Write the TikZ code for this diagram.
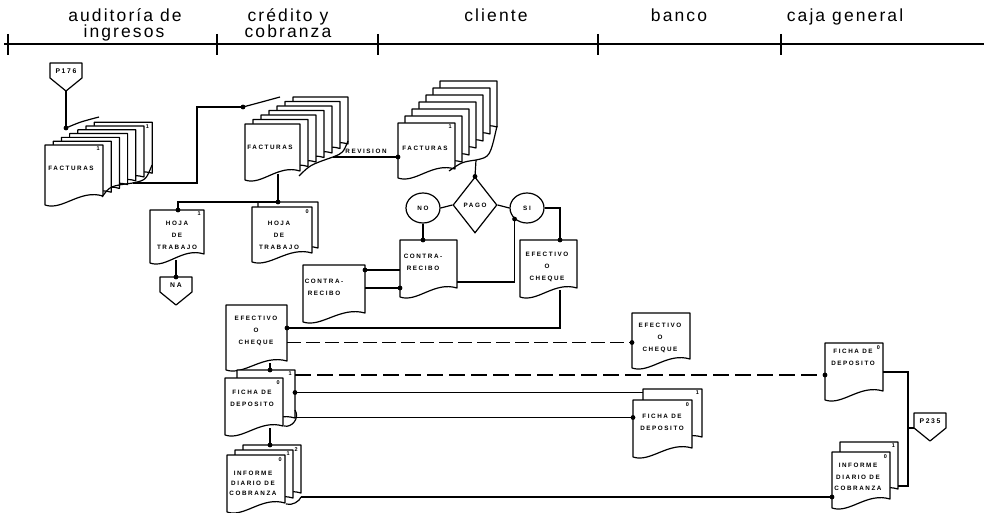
\documentclass[tikz,border=0pt]{standalone}
\usepackage{fontspec}
\setmainfont{Liberation Sans}
\newfontfamily\headfont[LetterSpace=12]{Liberation Sans}
\newfontfamily\docfont[LetterSpace=25]{Liberation Sans}
\usetikzlibrary{calc,shapes.geometric}

\newcommand\docpath[5]{%
  \node[docnode, minimum width=#3pt, minimum height=#4pt, anchor=north west] (#5) at (#1,#2) {};
  \draw[docline] (#5.north west) -- (#5.north east) -- ($(#5.south east)+(0,-9)$) .. controls ($(#5.south)+(0.1*#3,-16)$) and ($(#5.south)+(-0.2*#3,6)$) .. (#5.south west) -- cycle;
}
\newcommand\docstack[8]{%
  \foreach \i in {#6,...,1}{\docpath{#2+\i*#7}{#3-\i*#8}{#4}{#5}{#1b\i}}%
  \docpath{#2}{#3}{#4}{#5}{#1}%
}
\newcommand\offpage[4]{%
  \draw[docline] (#2-16,#3) -- (#2+16,#3) -- (#2+16,#3+15) -- (#2,#3+28) -- (#2-16,#3+15) -- cycle;
  \node[offtext] (#1) at (#2,#3+8) {#4};
  \coordinate (#1tip) at (#2,#3+28);
  \coordinate (#1w) at (#2-16,#3+15);
  \coordinate (#1n) at (#2,#3);
}
\newcommand\docnum[2]{\node[numlabel, anchor=north east] (#1num) at ($(#1.north east)+(-3,2)$) {#2};}
\newcommand\dotat[1]{\fill #1 circle (2.4);}

\begin{document}
\begin{tikzpicture}[x=1pt,y=-1pt,
  conn/.style={line width=1.2pt},
  docline/.style={line width=1.2pt, fill=white, line join=round},
  docnode/.style={inner sep=0pt, outer sep=0pt, draw=none},
  doclabel/.style={font={\docfont\bfseries\fontsize{6.3}{12}\selectfont}, align=center, inner sep=0pt},
  offtext/.style={font={\docfont\bfseries\fontsize{6.8}{7}\selectfont}, inner sep=0pt},
  numlabel/.style={font={\bfseries\fontsize{5.5}{6}\selectfont}, inner sep=0pt},
  head/.style={font={\headfont\fontsize{17.5}{19}\selectfont}, anchor=base, inner sep=0pt},
  round/.style={ellipse, draw, line width=1.2pt, fill=white, minimum width=34pt, minimum height=30pt, inner sep=0pt, font={\docfont\bfseries\fontsize{6.3}{7}\selectfont}}
]
\useasboundingbox (0,0) rectangle (984,513);

% ---------- header ----------
\draw[conn] (4,44) -- (984,44);
\foreach \x in {8,217,378,598,781} \draw[conn] (\x,34) -- (\x,55);
\node[head] (h1a) at (125,22) {auditoría de};
\node[head] (h1b) at (124,38) {ingresos};
\node[head] (h2a) at (288,22) {crédito y};
\node[head] (h2b) at (288,38) {cobranza};
\node[head] (h3) at (496,22) {cliente};
\node[head] (h4) at (679,22) {banco};
\node[head] (h5) at (845,22) {caja general};

% ---------- auditoria de ingresos ----------
\offpage{pA}{66}{63}{P176}
\docstack{afac}{45}{145}{58}{60}{6}{8.2}{3.8}
\node[doclabel] (afacl) at (71,168) {FACTURAS};
\docnum{afac}{1}
\docnum{afacb6}{1}
\coordinate (afacin) at (66,128);
\coordinate (afacout) at (133,183);
\draw[conn] (afacin) .. controls (80,122) .. (99,117);
\draw[conn] (102,197) .. controls (110,186) .. (afacout) .. controls (146,180) .. (152,165);
\draw[conn] (pAtip) -- (afacin);
\dotat{(afacin)}

\docpath{150}{210}{54}{53}{ahoja}
\node[doclabel] (ahojal) at (177,235) {HOJA\\DE\\TRABAJO};
\docnum{ahoja}{1}
\offpage{pNA}{176}{277}{NA}
\draw[conn] ($(ahoja.north west)+(26,50)$) -- (pNAn);
\dotat{(pNAn)}

% ---------- credito y cobranza: facturas ----------
\docstack{cfac}{245}{124}{55}{56}{6}{8}{4.5}
\node[doclabel] (cfacl) at (270,147) {FACTURAS};
\coordinate (cfacin) at (243,107);
\coordinate (cfacout) at (333,157);
\draw[conn] (cfacin) .. controls (258,103) .. (280,97);
\draw[conn] (299,176) .. controls (310,165) .. (cfacout) .. controls (343,153) .. (348,141);
\draw[conn] (afacout) -| (197,107) -- (cfacin);
\dotat{(cfacin)}

\docstack{choja}{252}{207}{60}{55}{1}{6}{5}
\node[doclabel] (chojal) at (279,235) {HOJA\\DE\\TRABAJO};
\docnum{choja}{0}
\coordinate (chojain) at ($(chojab1.north west)+(20,0)$);
\draw[conn] ($(cfac.north west)+(33,50)$) -- (chojain);
\draw[conn] (chojain) -| ($(ahoja.north west)+(28,0)$);
\dotat{(chojain)}
\dotat{($(ahoja.north west)+(28,0)$)}

% ---------- cliente ----------
\docstack{clfac}{398}{123}{57}{55}{6}{7}{7}
\node[doclabel] (clfacl) at (425,148) {FACTURAS};
\docnum{clfac}{1}
\coordinate (clfacout) at (476,160);
\draw[conn] (449,171) .. controls (462,162) .. (clfacout) .. controls (490,157) .. (497,126);
\draw[conn] (cfacout) -- ($(clfac.north west)+(0,34)$);
\dotat{($(clfac.north west)+(0,34)$)}
\node[doclabel] (rev) at (366,151) {REVISION};

\node[diamond, draw, line width=1.2pt, fill=white, minimum width=44pt, minimum height=56pt, inner sep=0pt, aspect=0.8, font={\docfont\bfseries\fontsize{6.3}{7}\selectfont}] (pago) at (475,205) {PAGO};
\node[round] (no) at (423,208) {NO};
\node[round] (si) at (527,208) {SI};
\draw[conn] (clfacout) -- (pago.north);
\dotat{(pago.north)}
\draw[conn] (no.east) -- (pago.west);
\draw[conn] (pago.east) -- (si.west);

\docpath{400}{240}{57}{57}{clcr}
\node[doclabel] (clcrl) at (423,262) {CONTRA-\\RECIBO};
\draw[conn] (no.south) -- (no.south |- clcr.north);
\dotat{(no.south |- clcr.north)}
\draw[conn] (si.south west) |- ($(clcr.north east)+(0,42)$);
\dotat{(si.south west)}

\docpath{520}{240}{57}{57}{clef}
\node[doclabel] (clefl) at (547,267) {EFECTIVO\\O\\CHEQUE};
\coordinate (clefin) at ($(clef.north west)+(40,0)$);
\draw[conn] (si.east) -| (clefin);
\dotat{(clefin)}

% contra-recibo in credito
\docpath{303}{265}{62}{57}{ccr}
\node[doclabel] (ccrl) at (324,287) {CONTRA-\\RECIBO};
\draw[conn] ($(clcr.north west)+(0,30)$) -- ($(ccr.north east)+(0,5)$);
\dotat{($(ccr.north east)+(0,5)$)}
\draw[conn] ($(ccr.north east)+(0,23)$) -- ($(clcr.north west)+(0,48)$);
\dotat{($(clcr.north west)+(0,48)$)}

% ---------- efectivo o cheque ----------
\docpath{226}{305}{61}{65}{credef}
\node[doclabel] (credefl) at (256,331) {EFECTIVO\\O\\CHEQUE};
\draw[conn] ($(clef.north west)+(40,50)$) |- ($(credef.north east)+(0,23)$);
\dotat{($(credef.north east)+(0,23)$)}

\docpath{632}{313}{58}{55}{bef}
\node[doclabel] (befl) at (660,338) {EFECTIVO\\O\\CHEQUE};
\draw[conn, dash pattern=on 14pt off 5pt] ($(credef.north east)+(0,37.5)$) -- ($(bef.north west)+(0,29.5)$);
\dotat{($(bef.north west)+(0,29.5)$)}

% ---------- ficha de deposito ----------
\docstack{cfi}{225}{378}{58}{57}{1}{12}{8}
\node[doclabel] (cfil) at (252,398) {FICHA DE\\DEPOSITO};
\docnum{cfi}{0}
\docnum{cfib1}{1}
\draw[conn] ($(credef.north west)+(44,58)$) -- ($(cfib1.north west)+(33,0)$);
\dotat{($(cfib1.north west)+(33,0)$)}
\draw[conn] (284,426) .. controls (292,428) and (300,418) .. (295,410);

\docstack{bfi}{633}{400}{59}{57}{1}{10}{11}
\node[doclabel] (bfil) at (662,422) {FICHA DE\\DEPOSITO};
\docnum{bfi}{0}
\docnum{bfib1}{1}

\docpath{825}{343}{58}{57}{cjfi}
\node[doclabel] (cjfil) at (853,357) {FICHA DE\\DEPOSITO};
\docnum{cjfi}{0}

\draw[conn, dash pattern=on 16pt off 6pt] ($(cfib1.north east)+(0,5)$) -- ($(cjfi.north west)+(0,32)$);
\dotat{($(cjfi.north west)+(0,32)$)}
\draw[conn] ($(bfib1.north west)+(0,3.5)$) -- ($(cfib1.north east)+(0,22.5)$);
\dotat{($(cfib1.north east)+(0,22.5)$)}
\draw[conn] ($(cfib1.north east)+(0,47.5)$) -- ($(bfi.north west)+(0,17.5)$);
\dotat{($(bfi.north west)+(0,17.5)$)}

% ---------- informe diario de cobranza ----------
\docstack{cinf}{227}{455}{58}{57}{2}{8}{5}
\node[doclabel, font={\docfont\bfseries\fontsize{6.3}{10}\selectfont}] (cinfl) at (253,483) {INFORME\\DIARIO DE\\COBRANZA};
\docnum{cinf}{0}
\docnum{cinfb1}{1}
\docnum{cinfb2}{2}
\draw[conn] ($(cfi.north west)+(45,50)$) -- ($(cinfb2.north west)+(27,0)$);
\dotat{($(cinfb2.north west)+(27,0)$)}
\coordinate (cinfout) at ($(cinfb2.north east)+(0,52)$);
\draw[conn] (286,504) .. controls (292,506) and (300,501) .. (cinfout);

\docstack{cjinf}{832}{452}{58}{56}{1}{8}{10}
\node[doclabel, font={\docfont\bfseries\fontsize{6.3}{11.5}\selectfont}] (cjinfl) at (858,477) {INFORME\\DIARIO DE\\COBRANZA};
\docnum{cjinf}{0}
\docnum{cjinfb1}{1}
\draw[conn] (cinfout) -- ($(cjinf.north west)+(0,45)$);
\dotat{($(cjinf.north west)+(0,45)$)}

% ---------- caja general connector ----------
\offpage{pB}{930}{413}{P235}
\coordinate (cjv) at (908,486);
\draw[conn] ($(cjfi.north east)+(0,29)$) -| (cjv) -- ($(cjinfb1.north east)+(0,44)$);
\draw[conn] (pBw) -- (908,428);
\end{tikzpicture}
\end{document}
